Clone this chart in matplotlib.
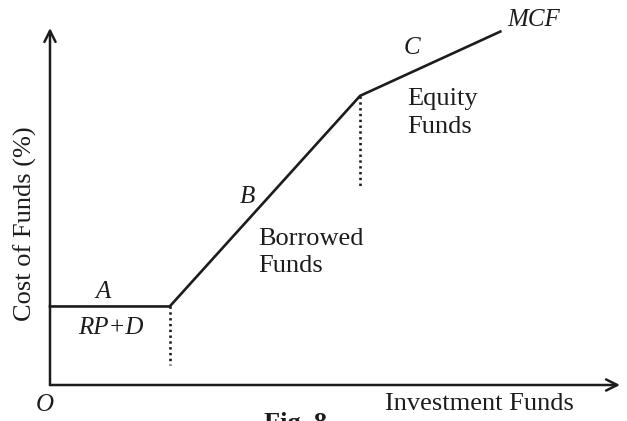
import matplotlib
matplotlib.use("Agg")
import matplotlib.pyplot as plt

# MCF curve kink points (investment funds, cost of funds)
mcf_x = [0.0, 2.1, 5.44, 7.9]
mcf_y = [2.2, 2.2, 8.1, 9.9]

# dotted drop lines below the kinks
drop_x = [2.1, 5.44]
drop_bottom = [0.56, 5.57]

x_max = 10.0
y_max = 10.0

ink = "#1c1c1c"
plt.rcParams['font.family'] = ['Liberation Serif', 'DejaVu Serif']

fig = plt.figure(figsize=(6.27, 4.21), dpi=100)
ax = fig.add_axes([50 / 627, 36 / 421, 570 / 627, 357 / 421])
ax.set_xlim(0, x_max)
ax.set_ylim(0, y_max)
ax.axis("off")

# axes with arrow heads
arrow = dict(arrowstyle="->,head_length=0.8,head_width=0.4", color=ink, lw=1.8,
             shrinkA=0, shrinkB=0)
ax.annotate("", xy=(x_max, 0), xytext=(0, 0), arrowprops=arrow, annotation_clip=False)
ax.annotate("", xy=(0, y_max), xytext=(0, 0), arrowprops=arrow, annotation_clip=False)

ax.plot(mcf_x, mcf_y, color=ink, lw=1.9, solid_joinstyle="miter", clip_on=False)
for i in range(len(drop_x)):
    top = mcf_y[i + 1]
    ax.plot([drop_x[i], drop_x[i]], [top, drop_bottom[i]], color=ink, lw=1.9,
            linestyle=(0, (0.9, 1.3)))

fs = 19
ax.text(0.93, 2.6, "A", fontsize=18, style="italic", color=ink, ha="center", va="center")
ax.text(1.07, 1.6, "RP+D", fontsize=18, style="italic", color=ink, ha="center", va="center")
ax.text(3.46, 5.27, "B", fontsize=18, style="italic", color=ink, ha="center", va="center")
ax.text(6.35, 9.44, "C", fontsize=18, style="italic", color=ink, ha="center", va="center")
ax.text(8.02, 10.22, "MCF", fontsize=18, style="italic", color=ink, ha="left", va="center",
        clip_on=False)
ax.text(3.65, 3.71, "Borrowed\nFunds", fontsize=fs, color=ink, ha="left", va="center",
        linespacing=1.3)
ax.text(6.26, 7.62, "Equity\nFunds", fontsize=fs, color=ink, ha="left", va="center",
        linespacing=1.3)
ax.text(-0.09, -0.56, "O", fontsize=18, style="italic", color=ink, ha="center", va="center",
        clip_on=False)
ax.text(7.54, -0.53, "Investment Funds", fontsize=fs, color=ink, ha="center", va="center",
        clip_on=False)
ax.text(-0.44, 4.51, "Cost of Funds (%)", fontsize=fs, color=ink, rotation=90,
        ha="center", va="center", clip_on=False)
ax.text(4.3, -0.76, "Fig. 8", fontsize=fs, fontweight="bold", color=ink, ha="center",
        va="top", clip_on=False)

fig.savefig("out.png", dpi=100, facecolor="white")
